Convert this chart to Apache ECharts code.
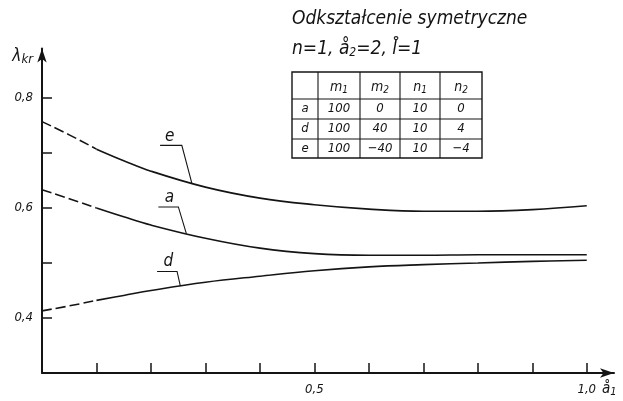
<!DOCTYPE html>
<html><head><meta charset="utf-8">
<script src="https://cdn.jsdelivr.net/npm/echarts@6/dist/echarts.min.js"></script>
<style>html,body{margin:0;padding:0;background:#fff}#c{width:623px;height:401px}</style>
</head><body><div id="c"></div>
<script>
// ---- data ----
const xValues = [0, 0.05, 0.1, 0.15, 0.2, 0.3, 0.4, 0.5, 0.6, 0.7, 0.8, 0.9, 1.0];
const curveE = [0.757, 0.733, 0.707, 0.686, 0.667, 0.638, 0.618, 0.606, 0.598, 0.594, 0.594, 0.597, 0.604];
const curveA = [0.633, 0.617, 0.600, 0.584, 0.569, 0.545, 0.527, 0.517, 0.514, 0.514, 0.515, 0.515, 0.515];
const curveD = [0.413, 0.422, 0.432, 0.441, 0.450, 0.465, 0.476, 0.486, 0.493, 0.497, 0.500, 0.503, 0.505];
const curveNames = ['e', 'a', 'd'];
const dashedUntil = 0.1;
const xTickValues = [0.1, 0.2, 0.3, 0.4, 0.5, 0.6, 0.7, 0.8, 0.9, 1.0];
const xLabelValues = [0.5, 1.0];
const yTickValues = [0.4, 0.5, 0.6, 0.7, 0.8];
const yLabelValues = [0.4, 0.6, 0.8];
const titleLine1 = 'Odkształcenie symetryczne';
const tableHeader = [['', ''], ['m', '1'], ['m', '2'], ['n', '1'], ['n', '2']];
const tableRows = [
  ['a', '100', '0', '10', '0'],
  ['d', '100', '40', '10', '4'],
  ['e', '100', '−40', '10', '−4']
];

// ---- style / layout ----
const FONT = "'Liberation Sans Narrow','DejaVu Sans Condensed','Liberation Sans',sans-serif";
const INK = '#141414';
const chart = echarts.init(document.getElementById('c'), null, {renderer: 'canvas'});
const fmt = v => (Math.round(v * 10) / 10).toFixed(1).replace('.', ',');
const txt = (size) => ({fontFamily: FONT, fontStyle: 'italic', fontWeight: 'normal', fontSize: size, color: INK});

function pairs(ys, keep) {
  return xValues.map((x, i) => [x, ys[i]]).filter(p => keep(p[0]));
}
const curves = [curveE, curveA, curveD];
const series = [];
curves.forEach((ys, k) => {
  series.push({type: 'line', name: curveNames[k] + '-dash', data: pairs(ys, x => x <= dashedUntil + 1e-9),
    smooth: true, showSymbol: false, silent: true,
    lineStyle: {color: INK, width: 1.6, type: [10, 4]}});
  series.push({type: 'line', name: curveNames[k], data: pairs(ys, x => x >= dashedUntil - 1e-9),
    smooth: 0.4, showSymbol: false, silent: true,
    lineStyle: {color: INK, width: 1.6}});
});

const option = {
  animation: false,
  backgroundColor: '#fff',
  title: [
    {text: titleLine1, left: 292, top: 10, padding: 0, textStyle: txt(19)},
    {text: '{n|n=1, å}{s|2}{n|=2, l̊=1}', left: 292, top: 39, padding: 0,
      textStyle: {fontWeight: 'normal',
        rich: {n: txt(19), s: Object.assign(txt(12), {padding: [8, 0, 0, 0]})}}}
  ],
  grid: {left: 42, right: 9, top: 48.5, bottom: 28, containLabel: false},
  xAxis: {
    type: 'value', min: 0, max: 1.05,
    axisLine: {show: true, onZero: false, symbol: ['none', 'arrow'], symbolSize: [7, 14],
      lineStyle: {color: INK, width: 2}},
    axisTick: {show: true, inside: true, length: 10, customValues: xTickValues,
      lineStyle: {color: INK, width: 1.5}},
    axisLabel: Object.assign(txt(13), {customValues: xLabelValues, formatter: fmt, margin: 10}),
    splitLine: {show: false},
    name: '{a|å}{s|1}', nameLocation: 'end', nameGap: -10,
    nameTextStyle: {align: 'center', verticalAlign: 'middle', padding: [32, 0, 0, 0],
      rich: {a: txt(15), s: Object.assign(txt(11), {padding: [7, 0, 0, 0]})}}
  },
  yAxis: {
    type: 'value', min: 0.3, max: 0.89,
    axisLine: {show: true, onZero: false, symbol: ['none', 'arrow'], symbolSize: [7, 14],
      lineStyle: {color: INK, width: 2}},
    axisTick: {show: true, inside: true, length: 10, customValues: yTickValues,
      lineStyle: {color: INK, width: 1.5}},
    axisLabel: Object.assign(txt(13), {customValues: yLabelValues, formatter: fmt, margin: 9}),
    splitLine: {show: false},
    name: '{l|λ}{s|kr}', nameLocation: 'end', nameGap: -8.5,
    nameTextStyle: {align: 'right', verticalAlign: 'middle', padding: [0, 9, 0, 0],
      rich: {l: txt(17), s: Object.assign(txt(13), {padding: [6, 0, 0, 0]})}}
  },
  series: series
};
chart.setOption(option);

// ---- leader lines & curve letters (anchored on the curves via the axes) ----
function interp(ys, x) {
  for (let i = 0; i < xValues.length - 1; i++) {
    if (x >= xValues[i] && x <= xValues[i + 1]) {
      const t = (x - xValues[i]) / (xValues[i + 1] - xValues[i]);
      return ys[i] + t * (ys[i + 1] - ys[i]);
    }
  }
  return ys[ys.length - 1];
}
const leaderLayout = [
  {at: 0.275, elbow: [-10, -37.7], end: [-31.7, -37.7], label: [-22, -47]},
  {at: 0.265, elbow: [-8, -26.7], end: [-28, -26.7], label: [-17, -36]},
  {at: 0.254, elbow: [-3.3, -14.6], end: [-23.3, -14.6], label: [-12, -24]}
];
const graphics = [];
curves.forEach((ys, k) => {
  const L = leaderLayout[k];
  const p = chart.convertToPixel({gridIndex: 0}, [L.at, interp(ys, L.at)]);
  graphics.push({type: 'polyline', silent: true,
    shape: {points: [[p[0], p[1]], [p[0] + L.elbow[0], p[1] + L.elbow[1]], [p[0] + L.end[0], p[1] + L.end[1]]]},
    style: {stroke: INK, lineWidth: 1.1, fill: null}});
  graphics.push({type: 'text', silent: true, x: p[0] + L.label[0], y: p[1] + L.label[1],
    style: {text: curveNames[k], align: 'center', verticalAlign: 'middle',
      font: 'italic 17px ' + FONT, fill: INK}});
});

// ---- parameter table ----
const colEdges = [292, 318, 360, 400, 440, 482];
const rowEdges = [72, 99, 119, 139, 158];
graphics.push({type: 'rect', silent: true,
  shape: {x: colEdges[0], y: rowEdges[0], width: colEdges[5] - colEdges[0], height: rowEdges[4] - rowEdges[0]},
  style: {stroke: INK, lineWidth: 1.4, fill: null}});
colEdges.slice(1, -1).forEach(cx => graphics.push({type: 'line', silent: true,
  shape: {x1: cx, y1: rowEdges[0], x2: cx, y2: rowEdges[4]}, style: {stroke: INK, lineWidth: 1.1}}));
rowEdges.slice(1, -1).forEach(cy => graphics.push({type: 'line', silent: true,
  shape: {x1: colEdges[0], y1: cy, x2: colEdges[5], y2: cy}, style: {stroke: INK, lineWidth: 1.1}}));
const cellRich = {m: {fontFamily: FONT, fontStyle: 'italic', fontSize: 14, fill: INK},
  s: {fontFamily: FONT, fontStyle: 'italic', fontSize: 10, fill: INK, padding: [6, 0, 0, 0]}};
tableHeader.forEach((h, c) => {
  if (!h[0]) return;
  graphics.push({type: 'text', silent: true,
    x: (colEdges[c] + colEdges[c + 1]) / 2, y: (rowEdges[0] + rowEdges[1]) / 2 + 2,
    style: {text: '{m|' + h[0] + '}{s|' + h[1] + '}', rich: cellRich, align: 'center', verticalAlign: 'middle'}});
});
tableRows.forEach((row, r) => {
  row.forEach((cell, c) => {
    graphics.push({type: 'text', silent: true,
      x: (colEdges[c] + colEdges[c + 1]) / 2, y: (rowEdges[r + 1] + rowEdges[r + 2]) / 2,
      style: {text: cell, align: 'center', verticalAlign: 'middle',
        font: 'italic 13px ' + FONT, fill: INK}});
  });
});
chart.setOption({graphic: {elements: graphics}});
</script>
</body></html>
